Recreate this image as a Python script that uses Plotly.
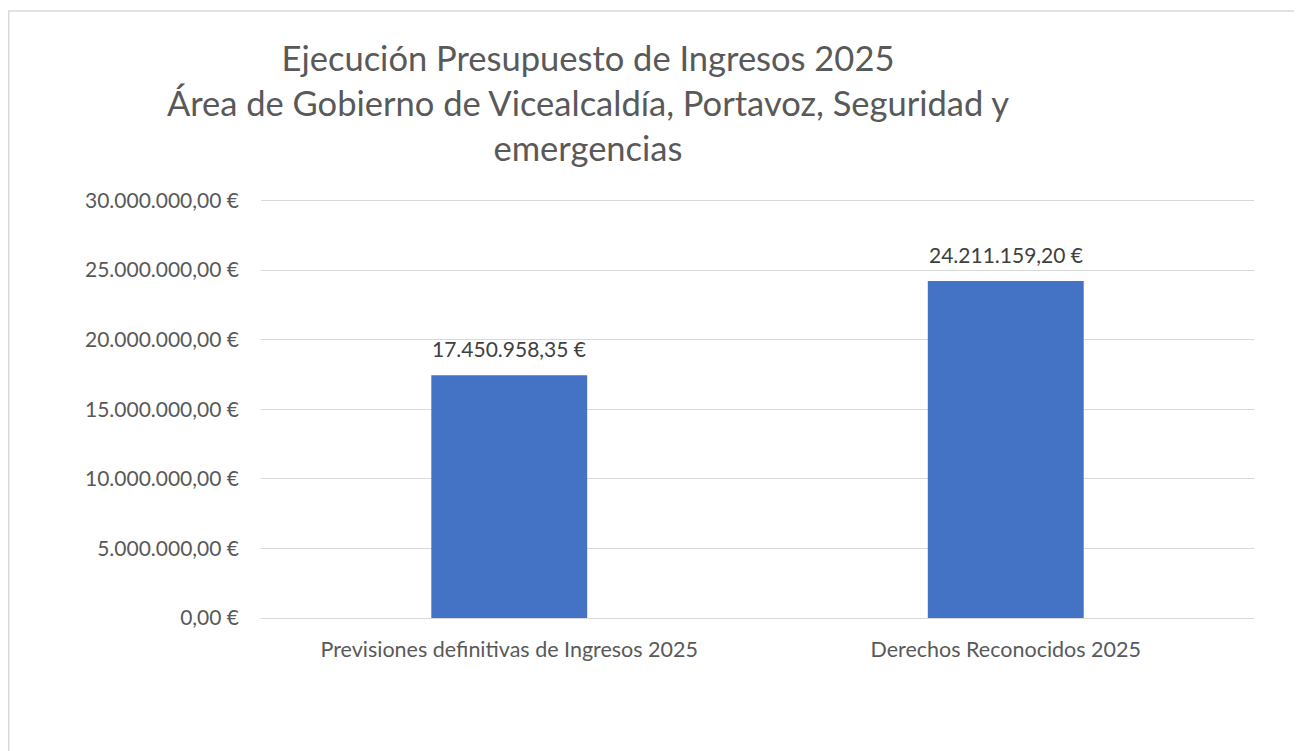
import plotly.graph_objects as go

categories = ["Previsiones definitivas de Ingresos 2025", "Derechos Reconocidos 2025"]
values = [17450958.35, 24211159.20]
tick_values = [0, 5000000, 10000000, 15000000, 20000000, 25000000, 30000000]
title_lines = ["Ejecución Presupuesto de Ingresos 2025",
               "Área de Gobierno de Vicealcaldía, Portavoz, Seguridad y",
               "emergencias"]


def fmt_eur(v):
    s = f"{v:,.2f}"
    s = s.replace(",", "X").replace(".", ",").replace("X", ".")
    return s + " €"


FONT = "Lato"
GRAY = "#595959"

# page body has an 8px margin; compensate so the chart lands where intended
OFF = 8
W, H = 1302 - OFF, 751 - OFF
Y_TOP_TICK = 30000000
Y_MAX = 30400000
zero_px, top_tick_px = 618, 201
top_px = zero_px - (zero_px - top_tick_px) * Y_MAX / Y_TOP_TICK

L = 261 - OFF
R = W - (1254 - OFF)
T = top_px - OFF
B = H - (zero_px - OFF)
pw, ph = W - L - R, H - T - B


def px_x(x):
    return (x - OFF - L) / pw


def px_y(y):
    return (H - B - (y - OFF)) / ph


fig = go.Figure()
fig.add_trace(go.Bar(
    x=categories, y=values,
    marker=dict(color="#4472C4", line=dict(width=0)),
    hoverinfo="x+y",
))

for c, v in zip(categories, values):
    fig.add_annotation(
        x=c, y=v, text=fmt_eur(v), showarrow=False,
        xanchor="center", yanchor="bottom", yshift=12,
        font=dict(family=FONT, size=21, color="#404040"),
    )

fig.update_layout(
    width=W, height=H,
    margin=dict(l=L, r=R, t=T, b=B, autoexpand=False),
    paper_bgcolor="white", plot_bgcolor="white",
    bargap=0.686,
    showlegend=False,
    title=dict(
        text="<br>".join(title_lines),
        font=dict(family=FONT, size=34.5, color=GRAY),
        x=px_x(588), xref="paper", xanchor="center",
        y=1 - (71 - OFF) / H, yref="container", yanchor="top",
    ),
    xaxis=dict(
        showgrid=False, showline=False, ticks="",
        tickfont=dict(family=FONT, size=21.5, color=GRAY),
        ticklabelstandoff=16,
    ),
    yaxis=dict(
        range=[0, Y_MAX],
        tickvals=tick_values,
        ticktext=[fmt_eur(v) for v in tick_values],
        tickfont=dict(family=FONT, size=21, color=GRAY),
        showgrid=True, gridcolor="#D9D9D9", gridwidth=1.3,
        zeroline=True, zerolinecolor="#D9D9D9", zerolinewidth=1.3,
        showline=False, ticks="",
        ticklabelstandoff=21,
    ),
    shapes=[dict(
        type="rect", xref="paper", yref="paper",
        x0=px_x(8.75), x1=px_x(1297), y0=px_y(820), y1=px_y(11.75),
        line=dict(color="#D9D9D9", width=1.5), fillcolor="rgba(0,0,0,0)",
        layer="below",
    )],
)

fig.write_html("out.html")
